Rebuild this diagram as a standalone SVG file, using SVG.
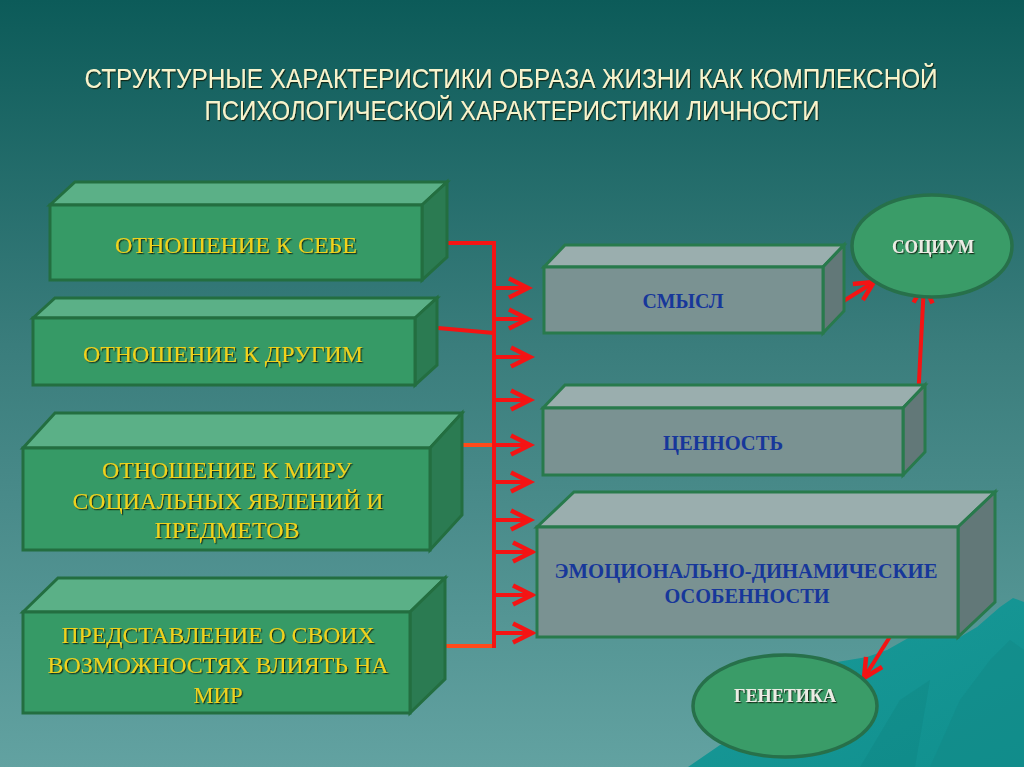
<svg xmlns="http://www.w3.org/2000/svg" width="1024" height="767" viewBox="0 0 1024 767">
<defs>
<linearGradient id="bg" x1="0" y1="0" x2="0" y2="1">
<stop offset="0" stop-color="#0c5b59"/>
<stop offset="0.45" stop-color="#3a7d7c"/>
<stop offset="1" stop-color="#62a2a1"/>
</linearGradient>
<linearGradient id="mt" x1="0" y1="0" x2="1" y2="1">
<stop offset="0" stop-color="#1a9a99"/>
<stop offset="1" stop-color="#10908e"/>
</linearGradient>
<filter id="sh" filterUnits="userSpaceOnUse" x="-2000" y="-2000" width="5000" height="5000">
<feDropShadow dx="1.2" dy="1.2" stdDeviation="0.6" flood-color="#10200c" flood-opacity="0.85"/>
</filter>
<marker id="ah" markerUnits="userSpaceOnUse" markerWidth="30" markerHeight="30" refX="22" refY="12" orient="auto">
<path d="M3,2.5 L22,12 L3,21.5" fill="none" stroke="#f41414" stroke-width="4.5" stroke-linejoin="miter"/>
</marker>
<style>
.gf{fill:#369a66;stroke:#236e40;stroke-width:3}
.gt{fill:#5bb087;stroke:#236e40;stroke-width:3}
.gs{fill:#2b7b52;stroke:#236e40;stroke-width:3}
.rf{fill:#7a9292;stroke:#287a4c;stroke-width:3}
.rt{fill:#9aaeae;stroke:#287a4c;stroke-width:3}
.rs{fill:#627878;stroke:#287a4c;stroke-width:3}
.el{fill:#3a9c68;stroke:#27704a;stroke-width:3.5}
.yt{font-family:"Liberation Serif",serif;font-size:23px;fill:#f0d21e;text-anchor:middle;filter:url(#sh)}
.bt{font-family:"Liberation Serif",serif;font-size:21px;font-weight:bold;fill:#17379a;text-anchor:middle}
.wt{font-family:"Liberation Serif",serif;font-size:18px;font-weight:bold;fill:#ecece4;text-anchor:middle;filter:url(#sh)}
.tt{font-family:"Liberation Sans",sans-serif;font-size:27px;fill:#f8f4cc;text-anchor:middle;filter:url(#sh)}
.ln{fill:none;stroke:#f41414;stroke-width:4}
.lo{fill:none;stroke:#ff4a1a;stroke-width:4}
.ar{fill:none;stroke:#f41414;stroke-width:4;marker-end:url(#ah)}
</style>
</defs>
<rect x="0" y="0" width="1024" height="767" fill="url(#bg)"/>
<g id="mountain">
<path d="M688,767 L720,745 L760,728 L800,700 L837,662 L867,657 L887,650 L910,637 L960,637 L977,627 L1000,607 L1013,598 L1024,602 L1024,767 Z" fill="url(#mt)"/>
<path d="M930,767 L960,700 L990,660 L1010,640 L1024,650 L1024,767 Z" fill="#128b89" opacity="0.6"/>
<path d="M860,767 L900,700 L930,680 L915,767 Z" fill="#0f8583" opacity="0.4"/>
</g>
<g id="title">
<text class="tt" transform="translate(511,88) scale(0.86,1)" x="0" y="0" textLength="992" lengthAdjust="spacingAndGlyphs">СТРУКТУРНЫЕ ХАРАКТЕРИСТИКИ ОБРАЗА ЖИЗНИ КАК КОМПЛЕКСНОЙ</text>
<text class="tt" transform="translate(512,120) scale(0.86,1)" x="0" y="0" textLength="715" lengthAdjust="spacingAndGlyphs">ПСИХОЛОГИЧЕСКОЙ ХАРАКТЕРИСТИКИ ЛИЧНОСТИ</text>
</g>
<g id="connectors">
<path class="ln" d="M437,243 H494"/>
<path class="ln" d="M438,328 L494,333"/>
<path class="lo" d="M452,445 H494"/>
<path class="lo" d="M437,646 H494"/>
<path class="ln" d="M494,241 V648"/>
<path class="ar" d="M494,288 H528"/>
<path class="ar" d="M494,319 H528"/>
<path class="ar" d="M494,357 H530"/>
<path class="ar" d="M494,400 H530"/>
<path class="ar" d="M494,445 H530"/>
<path class="ar" d="M494,482 H530"/>
<path class="ar" d="M494,520 H530"/>
<path class="ar" d="M494,552 H532"/>
<path class="ar" d="M494,595 H532"/>
<path class="ar" d="M494,633 H532"/>
<path class="ar" d="M842,302 L874,282"/>
<path class="ar" d="M917,420 L924,284"/>
<path class="ar" d="M891,635 L864,678"/>
</g>
<g id="otn-sebe">
<polygon class="gt" points="50,205 75,182 447,182 422,205"/>
<polygon class="gs" points="422,205 447,182 447,257 422,280"/>
<rect class="gf" x="50" y="205" width="372" height="75"/>
<text class="yt" x="236" y="253" textLength="242" lengthAdjust="spacingAndGlyphs">ОТНОШЕНИЕ К СЕБЕ</text>
</g>
<g id="otn-drugim">
<polygon class="gt" points="33,318 55,298 437,298 415,318"/>
<polygon class="gs" points="415,318 437,298 437,365 415,385"/>
<rect class="gf" x="33" y="318" width="382" height="67"/>
<text class="yt" x="223" y="362" textLength="280" lengthAdjust="spacingAndGlyphs">ОТНОШЕНИЕ К ДРУГИМ</text>
</g>
<g id="otn-miru">
<polygon class="gt" points="23,448 55,413 462,413 430,448"/>
<polygon class="gs" points="430,448 462,413 462,515 430,550"/>
<rect class="gf" x="23" y="448" width="407" height="102"/>
<text class="yt" x="227" y="478" textLength="250" lengthAdjust="spacingAndGlyphs">ОТНОШЕНИЕ К МИРУ</text>
<text class="yt" x="228" y="509" textLength="311" lengthAdjust="spacingAndGlyphs">СОЦИАЛЬНЫХ ЯВЛЕНИЙ И</text>
<text class="yt" x="227" y="538" textLength="145" lengthAdjust="spacingAndGlyphs">ПРЕДМЕТОВ</text>
</g>
<g id="predstavlenie">
<polygon class="gt" points="23,612 58,578 445,578 410,612"/>
<polygon class="gs" points="410,612 445,578 445,679 410,713"/>
<rect class="gf" x="23" y="612" width="387" height="101"/>
<text class="yt" x="218" y="643" textLength="313" lengthAdjust="spacingAndGlyphs">ПРЕДСТАВЛЕНИЕ О СВОИХ</text>
<text class="yt" x="218" y="673" textLength="341" lengthAdjust="spacingAndGlyphs">ВОЗМОЖНОСТЯХ ВЛИЯТЬ НА</text>
<text class="yt" x="218" y="703" textLength="49" lengthAdjust="spacingAndGlyphs">МИР</text>
</g>
<g id="smysl">
<polygon class="rt" points="544,267 565,245 844,245 823,267"/>
<polygon class="rs" points="823,267 844,245 844,311 823,333"/>
<rect class="rf" x="544" y="267" width="279" height="66"/>
<text class="bt" x="683" y="308" textLength="81" lengthAdjust="spacingAndGlyphs">СМЫСЛ</text>
</g>
<g id="tsennost">
<polygon class="rt" points="543,408 565,385 925,385 903,408"/>
<polygon class="rs" points="903,408 925,385 925,452 903,475"/>
<rect class="rf" x="543" y="408" width="360" height="67"/>
<text class="bt" x="723" y="450" textLength="120" lengthAdjust="spacingAndGlyphs">ЦЕННОСТЬ</text>
</g>
<g id="emots">
<polygon class="rt" points="537,527 574,492 995,492 958,527"/>
<polygon class="rs" points="958,527 995,492 995,602 958,637"/>
<rect class="rf" x="537" y="527" width="421" height="110"/>
<text class="bt" x="746" y="578" style="font-size:20px" textLength="383" lengthAdjust="spacingAndGlyphs">ЭМОЦИОНАЛЬНО-ДИНАМИЧЕСКИЕ</text>
<text class="bt" x="747" y="603" style="font-size:20px" textLength="165" lengthAdjust="spacingAndGlyphs">ОСОБЕННОСТИ</text>
</g>
<g id="sotsium">
<ellipse class="el" cx="932" cy="246" rx="80" ry="51"/>
<text class="wt" x="933" y="253" textLength="82" lengthAdjust="spacingAndGlyphs">СОЦИУМ</text>
</g>
<g id="genetika">
<ellipse class="el" cx="785" cy="706" rx="92" ry="51"/>
<text class="wt" x="785" y="702" textLength="102" lengthAdjust="spacingAndGlyphs">ГЕНЕТИКА</text>
</g>
</svg>
